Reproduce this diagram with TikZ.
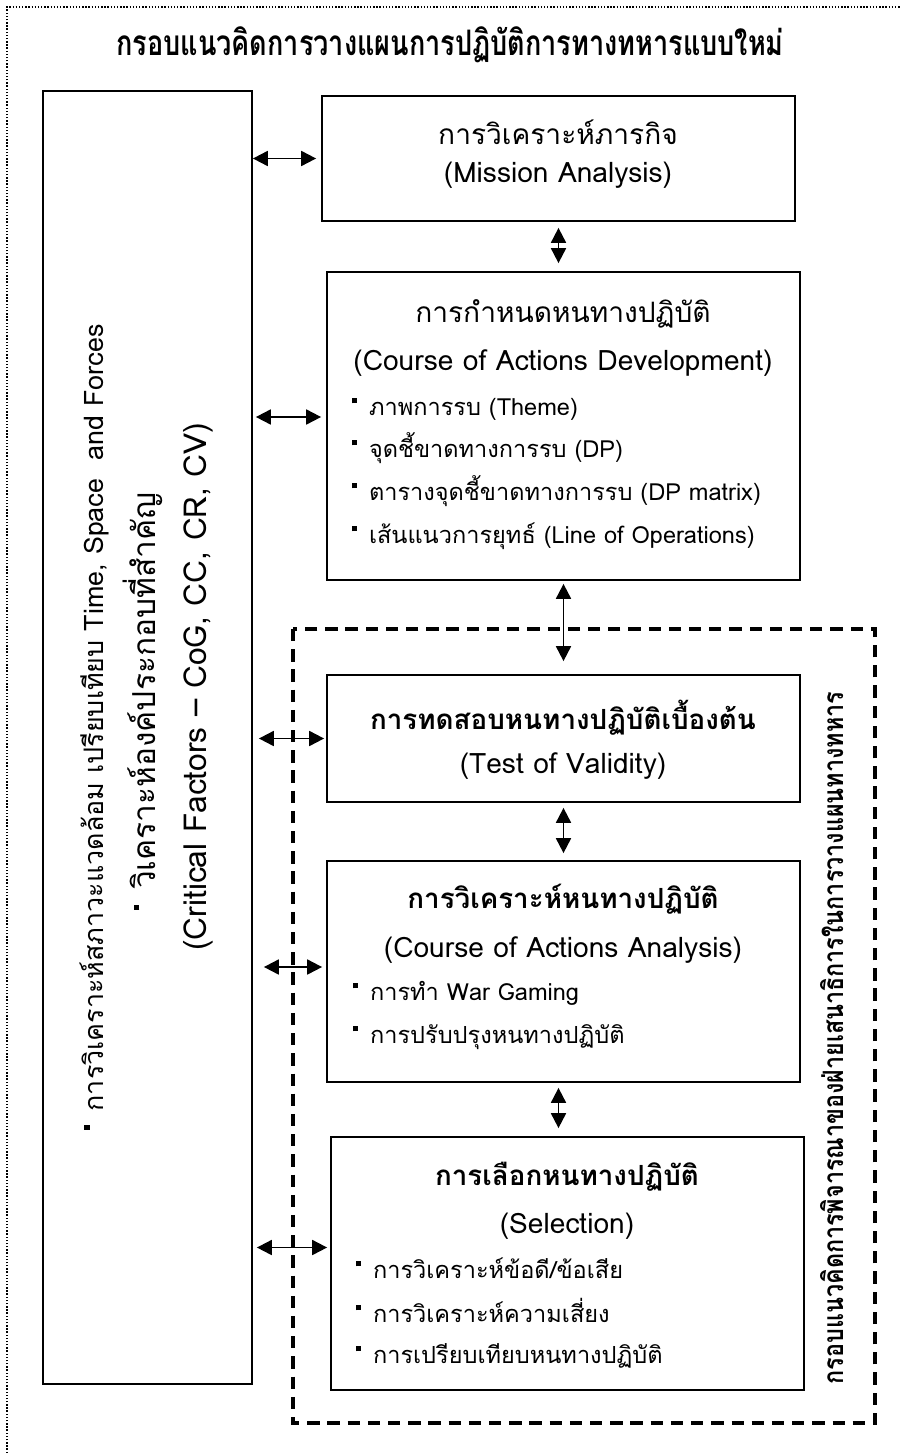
\documentclass[tikz,border=0pt]{standalone}
\usepackage{fontspec}
\usepackage{graphicx}
\setmainfont[Script=Thai]{Loma}
\usetikzlibrary{arrows.meta,fit}

\newcommand{\sqb}{\raisebox{0.95ex}{\rule{2.8pt}{3.2pt}}\hspace{0.5em}}

\tikzset{
  box/.style={draw=black, line width=1pt, inner sep=0pt},
  lrarrow/.style={{Triangle[length=8.5pt,width=8.5pt]}-{Triangle[length=8.5pt,width=8.5pt]}, line width=1.1pt},
  txt/.style={inner sep=0pt, anchor=base, font=\fontsize{16}{18}\selectfont},
  head/.style={inner sep=0pt, anchor=base, font=\fontsize{15.8}{18}\selectfont\bfseries},
  item/.style={inner sep=0pt, anchor=base west, font=\fontsize{13.4}{16}\selectfont},
  envtxt/.style={inner sep=0pt, rotate=90, anchor=base west, font=\fontsize{18}{20}\selectfont},
}

\begin{document}
\begin{tikzpicture}[x=0.02cm,y=-0.02cm]
  \useasboundingbox (0,0) rectangle (900,1453);
  % outer frame
  \draw[densely dotted, line width=0.8pt] (7,1453) -- (7,7) -- (900,7);
  \node[inner sep=0pt, font=\fontsize{20}{22}\selectfont\bfseries] (title) at (450,45) {\scalebox{0.77}[1]{กรอบแนวคิดการวางแผนการปฏิบัติการทางทหารแบบใหม่}};

  % dashed frame of staff planning
  \draw[line width=1.9pt, dash pattern=on 7pt off 4.5pt] (293,629) rectangle (875,1423);
  \node[inner sep=0pt, rotate=90, font=\fontsize{16}{18}\selectfont\bfseries] (stafflabel) at (832,1038) {\scalebox{0.83}[1]{กรอบแนวคิดการพิจารณาของฝ่ายเสนาธิการในการวางแผนทางทหาร}};

  % boxes
  \node[box, fit={(43,91) (252,1384)}] (env) {};
  \node[box, fit={(322,96) (795,221)}] (mission) {};
  \node[box, fit={(327,272) (800,580)}] (coa) {};
  \node[box, fit={(327,675) (800,802)}] (test) {};
  \node[box, fit={(327,861) (800,1082)}] (coaa) {};
  \node[box, fit={(331,1137) (804,1390)}] (sel) {};

  % environment (rotated)
  \node[envtxt, font=\fontsize{15.3}{18}\selectfont] (env1) at (103,1130) {\sqb การวิเคราะห์สภาวะแวดล้อม เปรียบเทียบ Time, Space\ \ and Forces};
  \node[envtxt] (env2) at (155,910) {\sqb วิเคราะห์องค์ประกอบที่สำคัญ};
  \node[envtxt] (env3) at (206,951) {(Critical Factors – CoG, CC, CR, CV)};

  % mission
  \node[txt] (mission1) at (558,145) {การวิเคราะห์ภารกิจ};
  \node[txt] (mission2) at (558,183) {(Mission Analysis)};

  % course of actions development
  \node[txt] (coa1) at (563,322) {การกำหนดหนทางปฏิบัติ};
  \node[txt] (coa2) at (563,370) {(Course of Actions Development)};
  \node[item] (coa3) at (352,415) {\sqb ภาพการรบ (Theme)};
  \node[item] (coa4) at (352,457) {\sqb จุดชี้ขาดทางการรบ (DP)};
  \node[item] (coa5) at (352,500) {\sqb ตารางจุดชี้ขาดทางการรบ (DP matrix)};
  \node[item] (coa6) at (352,543) {\sqb เส้นแนวการยุทธ์ (Line of Operations)};

  % test of validity
  \node[head] (test1) at (563,729) {การทดสอบหนทางปฏิบัติเบื้องต้น};
  \node[txt] (test2) at (563,773) {(Test of Validity)};

  % course of actions analysis
  \node[head] (coaa1) at (563,908) {การวิเคราะห์หนทางปฏิบัติ};
  \node[txt] (coaa2) at (563,957) {(Course of Actions Analysis)};
  \node[item] (coaa3) at (353,1000) {\sqb การทำ War Gaming};
  \node[item] (coaa4) at (353,1043) {\sqb การปรับปรุงหนทางปฏิบัติ};

  % selection
  \node[head] (sel1) at (567,1185) {การเลือกหนทางปฏิบัติ};
  \node[txt] (sel2) at (567,1233) {(Selection)};
  \node[item] (sel3) at (356,1278) {\sqb การวิเคราะห์ข้อดี/ข้อเสีย};
  \node[item] (sel4) at (356,1322) {\sqb การวิเคราะห์ความเสี่ยง};
  \node[item] (sel5) at (356,1363) {\sqb การเปรียบเทียบหนทางปฏิบัติ};

  % links to environment box
  \draw[lrarrow, shorten >=0.1cm] (env.east |- mission.west) -- (mission.west);
  \draw[lrarrow, shorten <=0.06cm, shorten >=0.1cm] ([yshift=0.18cm]env.east |- coa.west) -- ([yshift=0.18cm]coa.west);
  \draw[lrarrow, shorten <=0.12cm, shorten >=0.04cm] (env.east |- test.west) -- (test.west);
  \draw[lrarrow, shorten <=0.22cm, shorten >=0.08cm] ([yshift=0.09cm]env.east |- coaa.west) -- ([yshift=0.09cm]coaa.west);
  \draw[lrarrow, shorten <=0.08cm, shorten >=0.06cm] ([yshift=0.32cm]env.east |- sel.west) -- ([yshift=0.32cm]sel.west);

  % links between steps
  \draw[lrarrow, shorten <=0.12cm, shorten >=0.16cm] (mission.south) -- (mission.south |- coa.north);
  \draw[lrarrow, shorten <=0.06cm, shorten >=0.26cm] (coa.south) -- (coa.south |- test.north);
  \draw[lrarrow, shorten <=0.1cm, shorten >=0.14cm] (test.south) -- (test.south |- coaa.north);
  \draw[lrarrow, shorten <=0.1cm, shorten >=0.16cm] ([xshift=-0.1cm]coaa.south) -- ([xshift=-0.1cm]coaa.south |- sel.north);
\end{tikzpicture}
\end{document}
